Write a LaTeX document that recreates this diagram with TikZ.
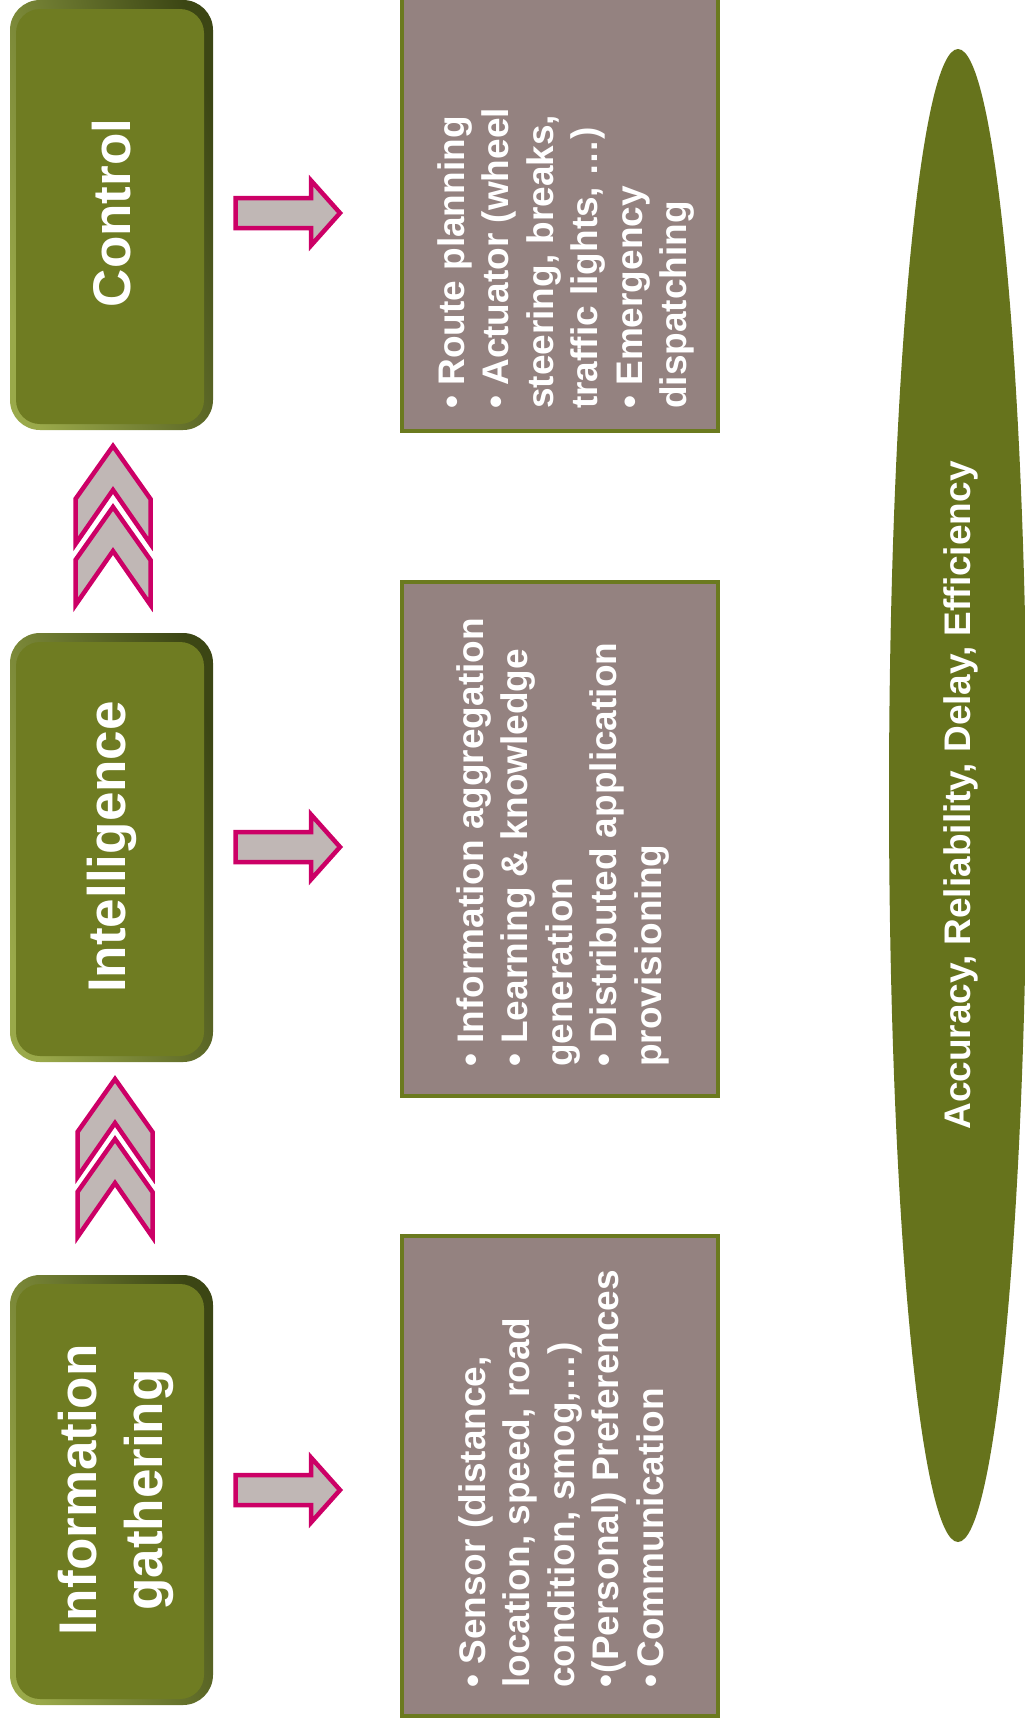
\documentclass[tikz,border=0pt]{standalone}
\usepackage{fontspec}
\setmainfont{Liberation Sans}
\usepackage{xcolor}
\usepackage{tikz}
\definecolor{stagegreen}{HTML}{6F7C22}
\definecolor{bevlight}{HTML}{9AA94A}
\definecolor{bevdark}{HTML}{3C4614}
\definecolor{panelfill}{HTML}{948280}
\definecolor{panelline}{HTML}{6B7A1F}
\definecolor{qosgreen}{HTML}{66731C}
\definecolor{arrowfill}{HTML}{C0B7B5}
\definecolor{arrowline}{HTML}{CC0066}
\tikzset{
  bevel/.style={rounded corners=30pt, left color=bevlight, right color=bevdark, shading angle=105},
  face/.style={rounded corners=24pt, fill=stagegreen},
  stage/.style={text=white, rotate=90, align=center, font=\fontsize{53}{66}\selectfont\bfseries},
  panel/.style={draw=panelline, line width=4pt, fill=panelfill},
  items/.style={text=white, rotate=90, align=left, anchor=west, inner sep=0pt, font=\fontsize{37}{44.5}\selectfont\bfseries},
  barrow/.style={draw=arrowline, fill=arrowfill, line width=4.5pt, line join=miter},
  chev/.style={draw=arrowline, fill=arrowfill, line width=4.5pt, line join=miter},
  qos/.style={fill=qosgreen},
  lab/.style={text=white, rotate=90, font=\fontsize{37}{44}\selectfont\bfseries}
}

\begin{document}
\begin{tikzpicture}[x=1pt, y=-1pt]
  \useasboundingbox (0,0) rectangle (1025,1725);

  % stages
  \foreach \ya/\yb in {0/430, 633/1062, 1275/1705} {
    \shade[bevel] (10,\ya) rectangle (213,\yb);
    \fill[face] (16,\ya+9) rectangle (204,\yb-6);
  }
  \node[stage] (ctl) at (112,213) {Control};
  \node[stage] (intel) at (112,847) {Intelligence};
  \node[stage] (info) at (116,1490) {Information\\gathering};

  \foreach \cx/\cy in {113/446, 113/507, 115/1079, 115/1139}
    \draw[chev, shift={(\cx,\cy)}] (0,0) -- (37.5,53) -- (37.5,98) -- (0,44)
      -- (-37.5,98) -- (-37.5,53) -- cycle;

  \foreach \ay in {213,847,1490}
    \draw[barrow, shift={(0,\ay)}] (235.5,-15) -- (311,-15) -- (311,-32.5) -- (340,0)
      -- (311,32.5) -- (311,15) -- (235.5,15) -- cycle;

  % panels
  \draw[panel] (402,-10) rectangle (718,431);
  \draw[panel] (402,582) rectangle (718,1096);
  \draw[panel] (402,1236) rectangle (718,1716);

  \node[items] (ctlitems) at (566,409) {\textbullet\ Route planning\\
    \textbullet\ Actuator (wheel\\steering, breaks,\\traffic lights, …)\\
    \textbullet\ Emergency\\dispatching};
  \node[items] (intelitems) at (563,1067) {\textbullet\ Information aggregation\\
    \textbullet\ Learning \& knowledge\\generation\\
    \textbullet\ Distributed application\\provisioning};
  \node[items] (infoitems) at (561,1688) {\textbullet\ Sensor (distance,\\
    location, speed, road\\condition, smog,…)\\
    \textbullet\hspace{0.05em}(Personal) Preferences\\
    \textbullet\hspace{0.2em}Communication};

  \fill[qos] (958,795.5) ellipse [x radius=69, y radius=746.5];
  \node[lab] (metrics) at (961,795.5) {Accuracy, Reliability, Delay, Efficiency};
\end{tikzpicture}
\end{document}
